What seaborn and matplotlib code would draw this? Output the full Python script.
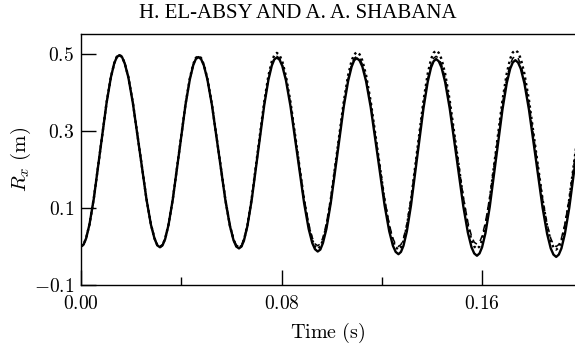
import matplotlib
matplotlib.use("Agg")
import matplotlib.pyplot as plt
import seaborn as sns
import pandas as pd

# ---- data ----
time_s = [
    0.0, 0.00102, 0.00204, 0.0034, 0.0051, 0.00765, 0.0102, 0.0119, 0.01326, 0.01428, 0.0153,
    0.01638, 0.01746, 0.0189, 0.0207, 0.0234, 0.0261, 0.0279, 0.02934, 0.03042, 0.0315,
    0.03252, 0.03354, 0.0349, 0.0366, 0.03915, 0.0417, 0.0434, 0.04476, 0.04578, 0.0468,
    0.04788, 0.04896, 0.0504, 0.0522, 0.0549, 0.0576, 0.0594, 0.06084, 0.06192, 0.0630,
    0.06401, 0.06501, 0.06636, 0.06803, 0.07055, 0.07307, 0.07474, 0.07609, 0.07709, 0.0781,
    0.07919, 0.08027, 0.08172, 0.08353, 0.08625, 0.08897, 0.09078, 0.09223, 0.09331, 0.0944,
    0.09544, 0.09648, 0.09787, 0.0996, 0.1022, 0.1048, 0.10653, 0.10792, 0.10896, 0.1100,
    0.11111, 0.11221, 0.11369, 0.11553, 0.1183, 0.12107, 0.12291, 0.12439, 0.12549, 0.1266,
    0.1276, 0.1286, 0.12993, 0.1316, 0.1341, 0.1366, 0.13827, 0.1396, 0.1406, 0.1416,
    0.14269, 0.14377, 0.14522, 0.14703, 0.14975, 0.15247, 0.15428, 0.15573, 0.15681, 0.1579,
    0.15892, 0.15994, 0.1613, 0.163, 0.16555, 0.1681, 0.1698, 0.17116, 0.17218, 0.1732,
    0.17429, 0.17537, 0.17682, 0.17863, 0.18135, 0.18407, 0.18588, 0.18733, 0.18841, 0.1895,
    0.19054, 0.19158, 0.19297, 0.1947, 0.1973, 0.1999,
]

rx_solid = [
    0.000, 0.005, 0.021, 0.058, 0.124, 0.249, 0.373, 0.439, 0.476, 0.492, 0.497,
    0.492, 0.475, 0.439, 0.372, 0.248, 0.123, 0.056, 0.020, 0.003, -0.002,
    0.003, 0.019, 0.056, 0.122, 0.245, 0.369, 0.434, 0.471, 0.487, 0.492,
    0.487, 0.471, 0.434, 0.368, 0.244, 0.119, 0.053, 0.016, 0.000, -0.005,
    0.000, 0.016, 0.053, 0.119, 0.243, 0.367, 0.433, 0.470, 0.486, 0.491,
    0.485, 0.469, 0.432, 0.365, 0.239, 0.113, 0.046, 0.009, -0.007, -0.013,
    -0.008, 0.009, 0.046, 0.113, 0.238, 0.364, 0.430, 0.467, 0.484, 0.489,
    0.483, 0.467, 0.429, 0.362, 0.235, 0.107, 0.040, 0.002, -0.014, -0.020,
    -0.014, 0.002, 0.039, 0.107, 0.234, 0.360, 0.428, 0.465, 0.481, 0.487,
    0.481, 0.465, 0.427, 0.359, 0.232, 0.104, 0.036, -0.002, -0.018, -0.024,
    -0.018, -0.002, 0.035, 0.103, 0.230, 0.357, 0.425, 0.462, 0.478, 0.484,
    0.478, 0.462, 0.424, 0.356, 0.229, 0.101, 0.033, -0.005, -0.021, -0.027,
    -0.021, -0.005, 0.033, 0.100, 0.228, 0.355,
]

rx_dashed = [
    0.000, 0.005, 0.021, 0.058, 0.124, 0.249, 0.373, 0.439, 0.476, 0.492, 0.497,
    0.492, 0.476, 0.439, 0.373, 0.249, 0.124, 0.058, 0.021, 0.005, 0.000,
    0.005, 0.021, 0.058, 0.123, 0.247, 0.370, 0.435, 0.472, 0.488, 0.493,
    0.488, 0.472, 0.435, 0.370, 0.246, 0.123, 0.057, 0.020, 0.004, -0.001,
    0.004, 0.020, 0.057, 0.123, 0.247, 0.370, 0.436, 0.473, 0.489, 0.494,
    0.489, 0.473, 0.436, 0.371, 0.248, 0.125, 0.060, 0.023, 0.007, 0.002,
    0.007, 0.023, 0.060, 0.125, 0.248, 0.371, 0.436, 0.473, 0.489, 0.494,
    0.489, 0.473, 0.436, 0.371, 0.247, 0.124, 0.058, 0.021, 0.005, 0.000,
    0.005, 0.021, 0.058, 0.124, 0.247, 0.371, 0.436, 0.473, 0.489, 0.494,
    0.489, 0.473, 0.437, 0.372, 0.250, 0.128, 0.063, 0.027, 0.011, 0.006,
    0.011, 0.027, 0.063, 0.128, 0.250, 0.372, 0.437, 0.473, 0.489, 0.494,
    0.489, 0.473, 0.436, 0.371, 0.247, 0.124, 0.058, 0.021, 0.005, 0.000,
    0.005, 0.021, 0.058, 0.124, 0.247, 0.371,
]

rx_dotted = [
    0.000, 0.005, 0.022, 0.058, 0.125, 0.249, 0.374, 0.440, 0.476, 0.493, 0.498,
    0.493, 0.476, 0.440, 0.373, 0.249, 0.124, 0.057, 0.021, 0.004, -0.001,
    0.004, 0.020, 0.057, 0.123, 0.247, 0.371, 0.437, 0.474, 0.490, 0.495,
    0.490, 0.473, 0.437, 0.370, 0.246, 0.121, 0.054, 0.018, 0.001, -0.004,
    0.002, 0.018, 0.055, 0.123, 0.250, 0.376, 0.444, 0.481, 0.497, 0.503,
    0.497, 0.481, 0.443, 0.376, 0.249, 0.121, 0.054, 0.016, 0.000, -0.006,
    0.000, 0.016, 0.054, 0.122, 0.250, 0.377, 0.445, 0.483, 0.499, 0.505,
    0.499, 0.483, 0.445, 0.377, 0.249, 0.120, 0.052, 0.014, -0.002, -0.008,
    -0.002, 0.014, 0.052, 0.121, 0.251, 0.380, 0.449, 0.487, 0.503, 0.509,
    0.503, 0.487, 0.449, 0.380, 0.252, 0.123, 0.054, 0.016, 0.000, -0.006,
    0.000, 0.016, 0.054, 0.123, 0.252, 0.381, 0.450, 0.488, 0.504, 0.510,
    0.504, 0.488, 0.449, 0.381, 0.251, 0.122, 0.053, 0.014, -0.002, -0.008,
    -0.002, 0.014, 0.053, 0.122, 0.251, 0.381,
]

x_major_ticks = [0.00, 0.08, 0.16]
x_major_labels = ["$0.00$", "$0.08$", "$0.16$"]
x_minor_ticks = [0.04, 0.12]
y_ticks = [-0.1, 0.1, 0.3, 0.5]
y_labels = ["$-0.1$", "$0.1$", "$0.3$", "$0.5$"]
header = "H. EL-ABSY AND A. A. SHABANA"

# ---- plotting ----
sns.set_style("white")
plt.rcParams["mathtext.fontset"] = "cm"
plt.rcParams["font.family"] = ["DejaVu Serif"]
plt.rcParams["text.color"] = "black"

fig = plt.figure(figsize=(5.75, 3.47), dpi=100)
ax = fig.add_axes([81 / 575, 1 - 285 / 347, 1 - 81 / 575, (285 - 34) / 347])

df = pd.DataFrame({"t": time_s, "solid": rx_solid,
                   "dashed": rx_dashed, "dotted": rx_dotted})

sns.lineplot(data=df, x="t", y="solid", ax=ax, color="black",
             linewidth=1.7, linestyle="-", sort=False)
sns.lineplot(data=df, x="t", y="dashed", ax=ax, color="black",
             linewidth=1.1, linestyle=(0, (4, 3)), sort=False)
sns.lineplot(data=df, x="t", y="dotted", ax=ax, color="black",
             linewidth=1.7, linestyle=(0, (1, 1.4)), sort=False)

ax.set_xlim(0.0, 0.197)
ax.set_ylim(-0.1, 0.552)

ax.set_xticks(x_major_ticks)
ax.set_xticklabels(x_major_labels)
ax.set_xticks(x_minor_ticks, minor=True)
ax.set_yticks(y_ticks)
ax.set_yticklabels(y_labels)

ax.tick_params(bottom=True, left=True, top=False, right=False)
ax.tick_params(axis="x", which="minor", bottom=True)
ax.tick_params(axis="both", which="major", direction="in", length=11,
               width=1.0, color="black", labelsize=14, labelcolor="black")
ax.tick_params(axis="x", which="minor", direction="in", length=6,
               width=1.0, color="black")
ax.tick_params(axis="x", which="major", pad=7)
ax.tick_params(axis="y", which="major", pad=5)

for side in ["left", "top", "bottom"]:
    ax.spines[side].set_visible(True)
    ax.spines[side].set_color("black")
    ax.spines[side].set_linewidth(1.0)
ax.spines["right"].set_visible(False)

ax.set_xlabel(r"$\mathrm{Time\ (s)}$", fontsize=14.5, color="black")
ax.xaxis.label.set_verticalalignment("center")
ax.xaxis.set_label_coords(0.5, -(333 - 285) / 251)
ax.set_ylabel(r"$R_x\ \mathrm{(m)}$", fontsize=15, color="black")
ax.yaxis.label.set_verticalalignment("center")
ax.yaxis.set_label_coords((21 - 81) / 494, 0.5)

fig.text(298 / 575, 1 - 13 / 347, header, ha="center", va="center",
         family="Liberation Serif", fontsize=15, color="black")

fig.savefig("out.png", dpi=100)
